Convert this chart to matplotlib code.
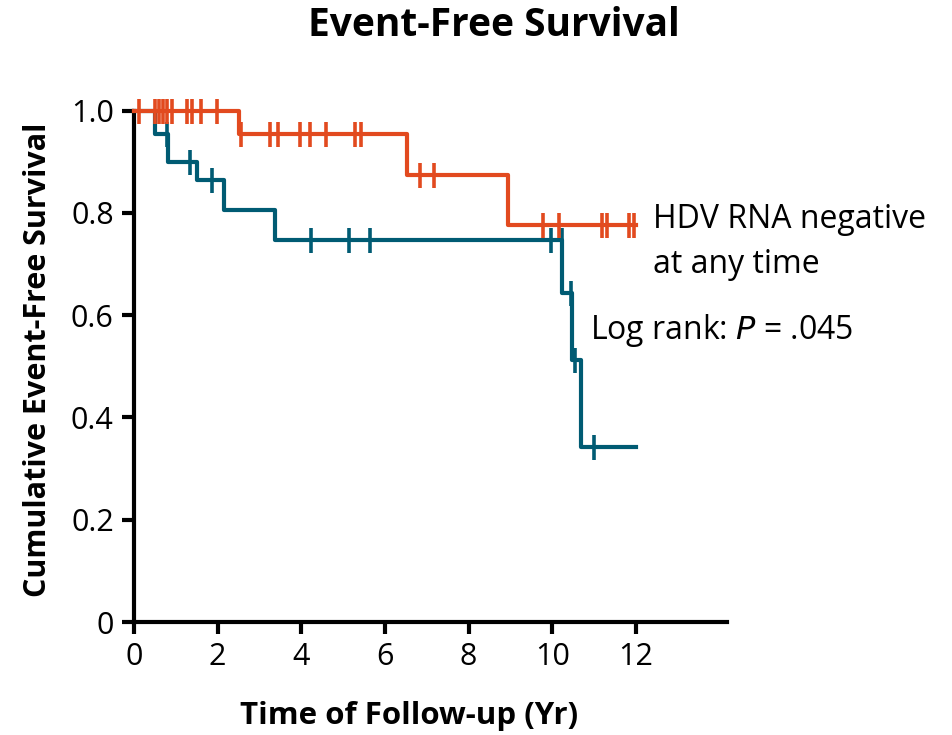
import numpy as np
import matplotlib
matplotlib.use("Agg")
import matplotlib.pyplot as plt

plt.rcParams['font.family'] = ['Open Sans', 'DejaVu Sans']

# ---- data ----
neg_times = [0.0, 2.50, 6.52, 8.94, 12.0]
neg_surv = [1.0, 0.955, 0.874, 0.776, 0.776]
neg_censor = [0.13, 0.50, 0.60, 0.70, 0.80, 0.90, 1.26, 1.38, 1.60, 1.98,
              2.55, 3.25, 3.45, 3.97, 4.21, 4.59, 5.29, 5.42, 6.84, 7.16,
              9.78, 10.17, 11.19, 11.31, 11.83, 11.95]

pos_times = [0.0, 0.50, 0.82, 1.50, 2.16, 3.36, 10.24, 10.47, 10.69, 12.0]
pos_surv = [1.0, 0.955, 0.900, 0.864, 0.806, 0.747, 0.644, 0.512, 0.343, 0.343]
pos_censor = [0.78, 1.34, 1.86, 4.23, 5.13, 5.63, 9.98, 10.22, 10.45, 10.55, 10.99]

x_ticks = [0, 2, 4, 6, 8, 10, 12]
y_ticks = [0, 0.2, 0.4, 0.6, 0.8, 1.0]
y_tick_labels = ['0', '0.2', '0.4', '0.6', '0.8', '1.0']

ORANGE = '#E24A1F'
TEAL = '#005B73'


def level_at(times, surv, t):
    idx = np.searchsorted(np.asarray(times), np.asarray(t), side='right') - 1
    return np.asarray(surv)[idx]


fig = plt.figure(figsize=(9.53, 7.35), dpi=100)
ax = fig.add_axes([134 / 953, 1 - 622 / 735, 593 / 953, 511.3 / 735])

lw = 3.0
ax.step(pos_times, pos_surv, where='post', color=TEAL, lw=lw, clip_on=False, zorder=3)
ax.plot(pos_censor, level_at(pos_times, pos_surv, pos_censor), ls='none', marker='|',
        ms=18, mew=2.6, color=TEAL, clip_on=False, zorder=3)
ax.step(neg_times, neg_surv, where='post', color=ORANGE, lw=lw, clip_on=False, zorder=4)
ax.plot(neg_censor, level_at(neg_times, neg_surv, neg_censor), ls='none', marker='|',
        ms=18, mew=2.6, color=ORANGE, clip_on=False, zorder=4)

ax.set_xlim(0, 593 / 41.83)
ax.set_ylim(0, 1.0)
ax.set_xticks(x_ticks)
ax.set_xticklabels([str(v) for v in x_ticks])
ax.set_yticks(y_ticks)
ax.set_yticklabels(y_tick_labels)

for s in ['top', 'right']:
    ax.spines[s].set_visible(False)
for s in ['left', 'bottom']:
    ax.spines[s].set_linewidth(3)
    ax.spines[s].set_color('black')
ax.tick_params(axis='both', length=8.5, width=3, labelsize=22, pad=6, color='black')

fig.text(494 / 953, 1 - 25 / 735, 'Event-Free Survival', ha='center', va='center',
         fontsize=28, fontweight='bold')
fig.text(409 / 953, 1 - 716 / 735, 'Time of Follow-up (Yr)', ha='center', va='center',
         fontsize=22.5, fontweight='bold')
fig.text(38 / 953, 1 - 360 / 735, 'Cumulative Event-Free Survival', ha='center', va='center',
         rotation=90, fontsize=22, fontweight='bold')

fig.text(653 / 953, 1 - 219 / 735, 'HDV RNA negative', ha='left', va='center', fontsize=23)
fig.text(653 / 953, 1 - 265 / 735, 'at any time', ha='left', va='center', fontsize=23)
fig.text(590 / 953, 1 - 331 / 735, 'Log rank: $\\mathit{P}$ = .045', ha='left', va='center',
         fontsize=23)

fig.savefig('out.png', dpi=100)
